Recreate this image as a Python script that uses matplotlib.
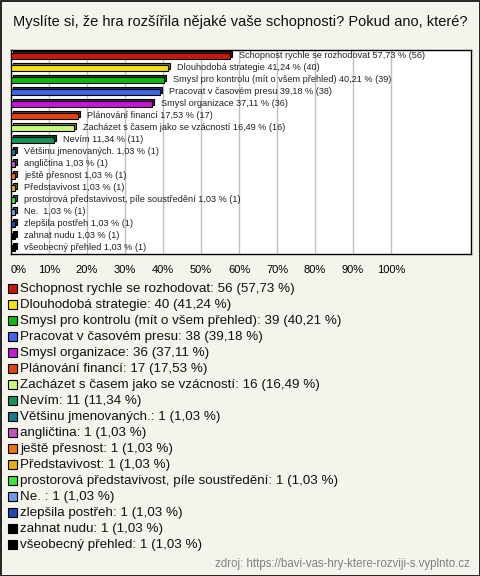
import numpy as np
import matplotlib.pyplot as plt
from matplotlib import transforms, colors
from matplotlib.patches import Rectangle

plt.rcParams['font.family'] = ['Liberation Sans', 'DejaVu Sans']

title = "Myslíte si, že hra rozšířila nějaké vaše schopnosti? Pokud ano, které?"
names = ["Schopnost rychle se rozhodovat", "Dlouhodobá strategie",
         "Smysl pro kontrolu (mít o všem přehled)", "Pracovat v časovém presu",
         "Smysl organizace", "Plánování financí", "Zacházet s časem jako se vzácností",
         "Nevím", "Většinu jmenovaných.", "angličtina", "ještě přesnost",
         "Představivost", "prostorová představivost, píle soustředění", "Ne. ",
         "zlepšila postřeh", "zahnat nudu", "všeobecný přehled"]
counts = [56, 40, 39, 38, 36, 17, 16, 11, 1, 1, 1, 1, 1, 1, 1, 1, 1]
pcts = [57.73, 41.24, 40.21, 39.18, 37.11, 17.53, 16.49, 11.34,
        1.03, 1.03, 1.03, 1.03, 1.03, 1.03, 1.03, 1.03, 1.03]
bar_colors = ['#c41a0b', '#f7e10b', '#13b613', '#3d66e8', '#c41ad6', '#e04412',
              '#c9f97a', '#13935a', '#137a8f', '#c055c0', '#e8760e', '#e8b00e',
              '#3ee33e', '#6a9be8', '#2446b0', '#000000', '#000000']
xticks = [0, 10, 20, 30, 40, 50, 60, 70, 80, 90, 100]
source = "zdroj: https://bavi-vas-hry-ktere-rozviji-s.vyplnto.cz"

bg = '#f4f3ec'
W, H = 480, 576
fig = plt.figure(figsize=(W / 100, H / 100), dpi=100, facecolor=bg)

# overlay in pixel units for title, legend, frame
ov = fig.add_axes([0, 0, 1, 1], zorder=-1)
ov.set_xlim(0, W)
ov.set_ylim(H, 0)
ov.axis('off')
ov.add_patch(Rectangle((0.5, 0.5), W - 1, H - 1, fill=False, ec='black', lw=1.2))
ov.text(240, 22, title, ha='center', va='center', fontsize=10.5, color='#111111')

# bar chart
ax = fig.add_axes([11 / W, 1 - 254 / H, 460 / W, 204 / H])
ax.set_facecolor('white')
y = np.arange(len(names))
ax.set_xlim(0, 460 / 3.8)
ax.set_ylim(len(names) - 0.5, -0.5)
for t in xticks:
    ax.axvline(t, color='#c0c0c0', lw=1, zorder=0)

shift = transforms.offset_copy(ax.transData, fig=fig, x=2, y=2, units='dots')
dark = [tuple(np.array(colors.to_rgb(c)) * 0.55) for c in bar_colors]
ax.barh(y, pcts, height=0.42, color=dark, edgecolor='black', lw=0.8,
        transform=shift, zorder=2)
ax.barh(y, pcts, height=0.42, color=bar_colors, edgecolor='black', lw=0.8, zorder=3)

for i in range(len(names)):
    lab = "%s %s %% (%d)" % (names[i], ("%.2f" % pcts[i]).replace('.', ','), counts[i])
    ax.annotate(lab, (pcts[i], y[i]), xytext=(9, 0), textcoords='offset pixels',
                ha='left', va='center', fontsize=6.6, color='#222222', zorder=4)

ax.set_yticks([])
ax.set_xticks(xticks)
ax.set_xticklabels(["%d%%" % t for t in xticks], fontsize=8)
ax.tick_params(axis='x', length=0, pad=8)
ax.get_xticklabels()[0].set_ha('left')
for s in ax.spines.values():
    s.set_color('black')
    s.set_linewidth(1)

# legend
for i in range(len(names)):
    yy = 288.5 + 16 * i
    ov.add_patch(Rectangle((7.5, yy - 4.5), 9, 9, facecolor=bar_colors[i],
                           edgecolor='black', lw=0.8))
    lab = "%s: %d (%s %%)" % (names[i], counts[i], ("%.2f" % pcts[i]).replace('.', ','))
    ov.text(20, yy + 0.5, lab, ha='left', va='center', fontsize=9.6, color='#111111')

ov.text(470, 564, source, ha='right', va='center', fontsize=8.3, color='#808080')

fig.savefig('out.png', dpi=100, facecolor=bg)
